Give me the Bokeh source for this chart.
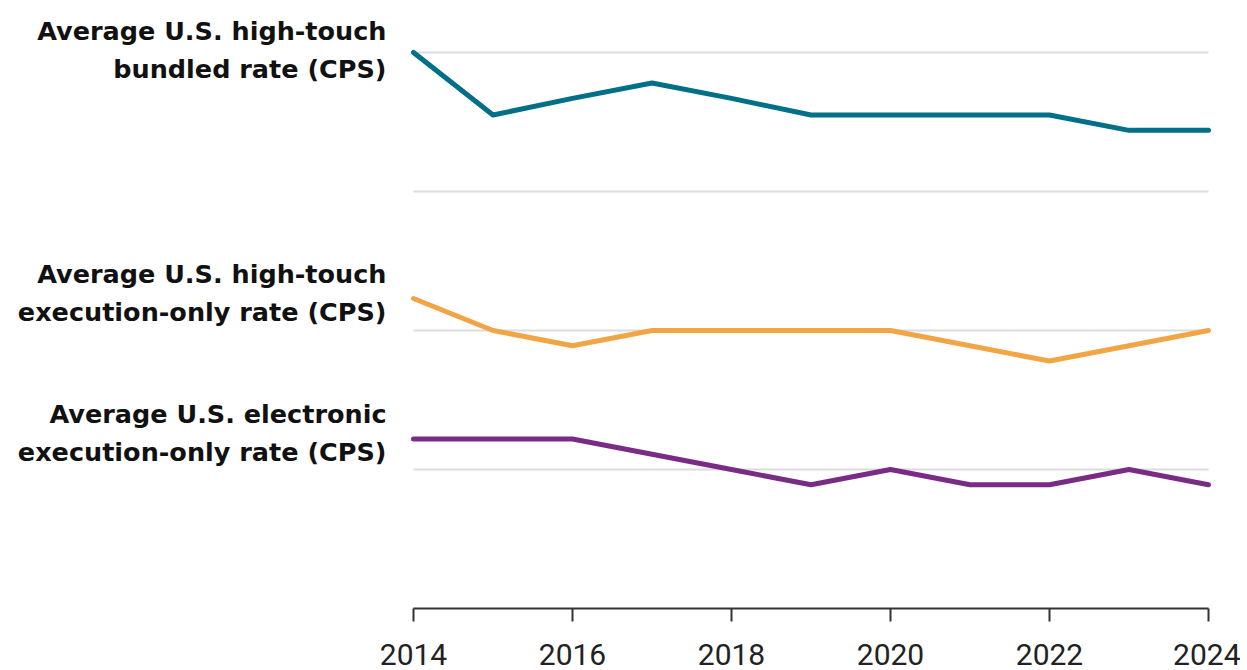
from bokeh.plotting import figure
from bokeh.models import Range1d, FixedTicker, Label
from bokeh.embed import file_html
from bokeh.resources import INLINE

years = list(range(2014, 2025))
bundled = [4.0, 3.55, 3.67, 3.78, 3.67, 3.55, 3.55, 3.55, 3.55, 3.44, 3.44]
exec_only = [2.23, 2.0, 1.89, 2.0, 2.0, 2.0, 2.0, 1.89, 1.78, 1.89, 2.0]
electronic = [1.22, 1.22, 1.22, 1.11, 1.0, 0.89, 1.0, 0.89, 0.89, 1.0, 0.89]

series_labels = [
    ("Average U.S. high-touch", "bundled rate (CPS)"),
    ("Average U.S. high-touch", "execution-only rate (CPS)"),
    ("Average U.S. electronic", "execution-only rate (CPS)"),
]
colors = ["#006F88", "#F2A544", "#7A2B86"]
x_ticks = [2014, 2016, 2018, 2020, 2022, 2024]
grid_ticks = [1, 2, 3, 4]

W, H = 1240, 670
left_px, right_px = 413, 1216
px_per_year = (1208 - 413) / 10.0
x_start = 2014 - left_px / px_per_year
x_end = 2024 + (right_px - 1208) / px_per_year
px_per_unit = 139.0
y_end = 608 / px_per_unit

p = figure(width=W, height=H, output_backend="svg", toolbar_location=None,
           x_range=Range1d(x_start, x_end), y_range=Range1d(0, y_end),
           min_border_left=0, min_border_right=W - right_px, min_border_top=0,
           min_border_bottom=H - 608)
p.outline_line_color = None
p.background_fill_color = "white"
p.border_fill_color = "white"

p.xgrid.visible = False
p.ygrid.visible = False
p.yaxis.visible = False

# horizontal gridlines spanning the data years only
p.segment(x0=[years[0]] * len(grid_ticks), x1=[years[-1]] * len(grid_ticks),
          y0=grid_ticks, y1=grid_ticks, line_color="#dcdcdc", line_width=2)

ax = p.xaxis[0]
ax.bounds = (years[0], years[-1])
ax.ticker = FixedTicker(ticks=x_ticks, minor_ticks=[])
ax.axis_line_color = "#333333"
ax.axis_line_width = 2
ax.major_tick_line_color = "#333333"
ax.major_tick_line_width = 2
ax.major_tick_out = 13
ax.major_tick_in = 0
ax.minor_tick_out = 0
ax.minor_tick_in = 0
ax.major_label_text_font = "Roboto"
ax.major_label_text_font_size = "30px"
ax.major_label_text_color = "#222222"
ax.major_label_standoff = 22

for ys, c in zip([bundled, exec_only, electronic], colors):
    p.line(years, ys, line_color=c, line_width=5, line_cap="round", line_join="round")

offsets = [(22, -16), (25, -13), (25, -13)]
for ys, (l1, l2), (o1, o2) in zip([bundled, exec_only, electronic], series_labels, offsets):
    for txt, off in ((l1, o1), (l2, o2)):
        p.add_layout(Label(x=years[0], y=ys[0], x_offset=-27, y_offset=off, text=txt,
                           text_align="right", text_baseline="alphabetic",
                           text_font="DejaVu Sans", text_font_style="bold",
                           text_font_size="25.5px", text_color="#111111"))

open("out.html", "w").write(file_html(p, INLINE))
